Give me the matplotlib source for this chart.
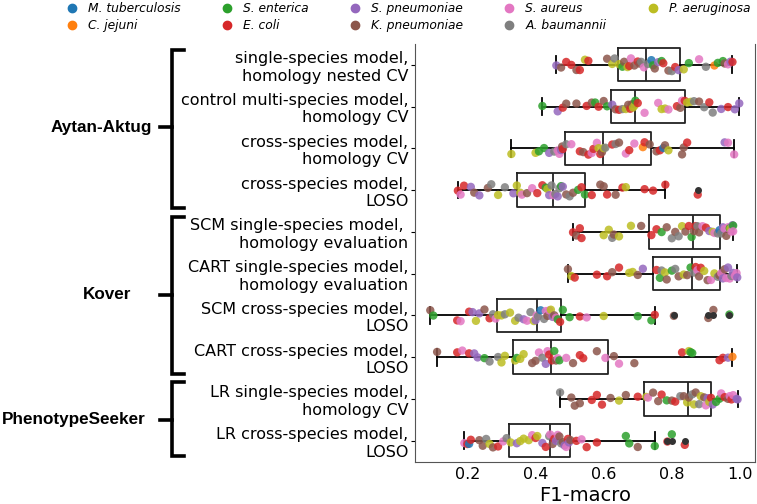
import matplotlib
matplotlib.use("Agg")
import matplotlib.pyplot as plt
import matplotlib.transforms as mtransforms
from matplotlib.lines import Line2D
import numpy as np
import pandas as pd
import seaborn as sns

# species (legend order) and one-letter codes used below
species = ['M. tuberculosis', 'C. jejuni', 'S. enterica', 'E. coli', 'S. pneumoniae',
           'K. pneumoniae', 'S. aureus', 'A. baumannii', 'P. aeruginosa']
codes = ['m', 'c', 's', 'e', 'p', 'k', 'a', 'b', 'y']
colors = ['#1f77b4', '#ff7f0e', '#2ca02c', '#d62728', '#9467bd',
          '#8c564b', '#e377c2', '#7f7f7f', '#bcbd22']

methods = [
    "single-species model,\nhomology nested CV",
    "control multi-species model,\nhomology CV",
    "cross-species model,\nhomology CV",
    "cross-species model,\nLOSO",
    "SCM single-species model, \nhomology evaluation",
    "CART single-species model,\nhomology evaluation",
    "SCM cross-species model,\nLOSO",
    "CART cross-species model,\nLOSO",
    "LR single-species model,\nhomology CV",
    "LR cross-species model,\nLOSO",
]

aa_single = [.461, .475, .49, .505, .52, .53, .545, .555, .61, .625, .632,
             .645, .655, .66, .67, .675, .68, .69, .70, .705, .71, .718,
             .73, .74, .745, .75, .76, .77, .775, .79, .80, .81, .82,
             .835, .85, .88, .90, .925, .935, .95, .955, .965, .972, .978]
aa_single_sp = "p k e e k e y e k y b  y s k y e a k e k b a  b m s k p s e k b e p  y s a b c s s k a p e"

aa_control = [.420, .465, .48, .49, .52, .55, .565, .575, .585, .60, .61,
              .625, .635, .645, .655, .665, .672, .678, .682, .686, .688, .690,
              .693, .70, .72, .76, .77, .78, .79, .815, .825, .83, .838,
              .845, .855, .865, .88, .895, .91, .92, .945, .965, .985, .998]
aa_control_sp = "s p e k k e k s e k s  p k e b y k e k y k y  s e a a y y a e k a e  y y b k b e b p e p p"

aa_cross = [.329, .40, .41, .425, .44, .455, .465, .47, .475, .478, .48,
            .49, .505, .53, .54, .555, .565, .57, .58, .585, .59, .595,
            .60, .605, .625, .635, .645, .665, .675, .69, .715, .72, .735,
            .755, .765, .775, .78, .79, .83, .835, .845, .955, .965, .983]
aa_cross_sp = "y y s s p b a a p k e  b a e k e a e a y e k  y b e b k a e a c e k  k e m k y k k e p a a"

aa_loso = [.172, .18, .19, .21, .22, .235, .26, .27, .29, .31, .335,
           .345, .355, .36, .375, .39, .405, .42, .43, .435, .44, .447,
           .452, .458, .465, .47, .475, .48, .49, .50, .51, .525, .535,
           .545, .565, .59, .60, .61, .635, .655, .665, .72, .745, .781, .876]
aa_loso_sp = "e a e p k p k b y b p  y y a k a e e s y p b  a b p b s p k b k s e  s e k k e k e y e e e e"

kover_scm_single = [.510, .52, .53, .535, .60, .615, .625, .63, .645, .68, .71,
                    .74, .755, .77, .785, .80, .81, .82, .83, .84, .85, .858,
                    .865, .87, .875, .88, .89, .90, .91, .92, .925, .935, .94,
                    .945, .95, .955, .96, .965, .97, .972, .975, .978, .98, .98]
kover_scm_single_sp = "e k e e y y b k y y k  e e s k b k b y k e s  k e b k a e p y a b m  b p a k a s y a p s a"

kover_cart_single = [.495, .505, .515, .58, .61, .625, .645, .675, .685, .70, .715,
                     .755, .765, .77, .78, .785, .80, .81, .82, .835, .845, .855,
                     .865, .87, .875, .88, .885, .895, .905, .915, .925, .935, .94,
                     .945, .95, .955, .96, .965, .97, .975, .98, .985, .99, .992]
kover_cart_single_sp = "k y e e e k e y y k p  e s b y k s b k y k s  b e a k e y k a y b k  a p k a p a b p a a p"

kover_scm_cross = [.091, .10, .17, .18, .205, .215, .225, .235, .25, .265, .275, .283,
                   .29, .30, .31, .325, .34, .35, .365, .375, .385, .395, .40, .403,
                   .407, .415, .425, .43, .435, .44, .445, .45, .455, .46, .465, .472,
                   .48, .50, .53, .55, .60, .70, .74, .750, .806, .907, .922, .969]
kover_scm_cross_sp = "k s e a e p y p k e b a  y y b y y b p a b y p a  b m b a k a y p k a s e  s s e a y s s e k k k s"

kover_cart_cross = [.111, .17, .185, .205, .22, .23, .25, .265, .29, .30, .31,
                    .34, .345, .355, .365, .39, .40, .41, .42, .43, .435, .44,
                    .448, .455, .46, .465, .47, .49, .51, .53, .54, .58, .605,
                    .63, .645, .69, .83, .85, .855, .86, .94, .95, .965, .978]
kover_cart_cross_sp = "k e a e p p s b b y y  y s y y k k a b p a e  e s k a s a k e e k a  k a k e y s s e e p c"

ps_single = [.472, .505, .515, .53, .565, .58, .595, .62, .645, .665, .70,
             .725, .73, .745, .76, .77, .785, .80, .81, .825, .835, .845,
             .85, .86, .865, .87, .88, .885, .895, .90, .905, .91, .915,
             .92, .93, .94, .945, .955, .965, .97, .975, .98, .99, .993]
ps_single_sp = "b k k k e e e k y k e  y a k k e s k e b k y  k b y k b y k a p y e  p s s a e k a e a p p"

ps_cross = [.191, .20, .205, .21, .235, .245, .255, .265, .275, .29, .305, .315,
            .327, .345, .355, .365, .38, .39, .40, .405, .42, .43, .44, .443,
            .45, .455, .46, .465, .47, .475, .48, .485, .49, .495, .498, .502,
            .52, .535, .55, .58, .665, .675, .70, .750, .787, .80, .838]
ps_cross_sp = "a e m e k k b y k e a b  y p y y y a e y p e b a  k e p a k b k p a e p k  e a e e s s k s e s e"

rows = [(aa_single, aa_single_sp), (aa_control, aa_control_sp), (aa_cross, aa_cross_sp),
        (aa_loso, aa_loso_sp), (kover_scm_single, kover_scm_single_sp),
        (kover_cart_single, kover_cart_single_sp), (kover_scm_cross, kover_scm_cross_sp),
        (kover_cart_cross, kover_cart_cross_sp), (ps_single, ps_single_sp), (ps_cross, ps_cross_sp)]

recs = []
for m, (vals, sp) in zip(methods, rows):
    sp = sp.split()
    for v, s in zip(vals, sp):
        recs.append((m, v, s))
df = pd.DataFrame(recs, columns=['method', 'f1', 'species'])

fig = plt.figure(figsize=(7.57, 5.04), dpi=100)
ax = fig.add_axes([0.548, 0.084, 0.449, 0.829])

np.random.seed(3)
sns.stripplot(data=df, x='f1', y='method', order=methods, hue='species', hue_order=codes,
              palette=colors, jitter=0.16, size=6, alpha=0.85, linewidth=0,
              legend=False, zorder=3, ax=ax)

box_data = [np.array(v) for v, _ in rows]
ax.boxplot(box_data, positions=range(len(methods)), orientation='horizontal', widths=0.8,
           manage_ticks=False, patch_artist=False, zorder=2,
           boxprops=dict(color='#222222', linewidth=1.3),
           whiskerprops=dict(color='black', linewidth=1.3),
           capprops=dict(color='black', linewidth=1.3),
           medianprops=dict(color='#222222', linewidth=1.3),
           flierprops=dict(marker='o', markersize=4, markerfacecolor='#333333',
                           markeredgecolor='#333333', zorder=4))

ax.set_ylim(len(methods) - 0.5, -0.5)
ax.set_yticks(range(len(methods)))
ax.set_yticklabels(methods, fontsize=11.5)
ax.set_ylabel('')
ax.set_xlabel('F1-macro', fontsize=14, labelpad=3)
ax.set_xticks([0.2, 0.4, 0.6, 0.8, 1.0])
ax.tick_params(axis='x', labelsize=11.5, length=0, pad=3.5)
ax.tick_params(axis='y', length=3, pad=1.5)
ax.spines['top'].set_visible(False)
for s in ['left', 'right', 'bottom']:
    ax.spines[s].set_color('#555555')

# group brackets on the left
tr = mtransforms.blended_transform_factory(fig.transFigure, ax.transData)
groups = [("Aytan-Aktug", -0.36, 3.43, 1.5, 0.201),
          ("Kover", 3.65, 7.4, 5.5, 0.173),
          ("PhenotypeSeeker", 7.6, 9.37, 8.5, 0.193)]
xv, xarm, xtick = 0.2272, 0.2425, 0.2115
for name, y0, y1, ym, xt in groups:
    fig.add_artist(Line2D([xarm, xv, xv, xarm], [y0, y0, y1, y1], transform=tr,
                          color='black', linewidth=2.6, solid_joinstyle='miter'))
    fig.add_artist(Line2D([xtick, xv], [ym, ym], transform=tr, color='black', linewidth=2.6))
    fig.text(xt, ym, name, transform=tr, ha='right', va='center', fontsize=12.3,
             fontweight='bold', family='Liberation Sans')

handles = [Line2D([], [], marker='o', linestyle='none', markersize=6,
                  markerfacecolor=c, markeredgecolor=c) for c in colors]
fig.legend(handles, species, loc='upper center', bbox_to_anchor=(0.539, 1.013), ncol=5,
           frameon=False, prop={'style': 'italic', 'size': 8.8}, handlelength=1.0,
           handletextpad=0.8, columnspacing=3.3, labelspacing=0.35, borderpad=0.2)

fig.savefig('out.png', dpi=100)
